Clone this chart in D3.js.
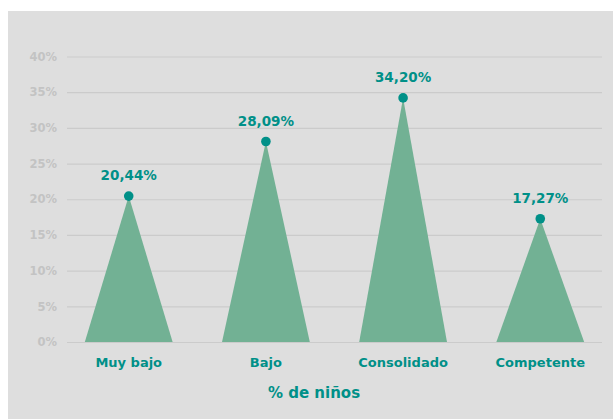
<!DOCTYPE html>
<html>
<head>
<meta charset="utf-8">
<script src="https://cdn.jsdelivr.net/npm/d3@7"></script>
<style>
  body { margin: 0; background: #fff; }
  svg { display: block; font-family: "DejaVu Sans", sans-serif; }
</style>
</head>
<body>
<div id="chart"></div>
<script>
const categories = ["Muy bajo", "Bajo", "Consolidado", "Competente"];
const values = [20.44, 28.09, 34.20, 17.27];
const valueLabels = ["20,44%", "28,09%", "34,20%", "17,27%"];
const yTicks = [0, 5, 10, 15, 20, 25, 30, 35, 40];
const axisTitle = "% de niños";

const width = 613, height = 419;
const teal = "#009088", green = "#72b194";

const svg = d3.select("#chart").append("svg")
  .attr("width", width)
  .attr("height", height);

// gray panel
svg.append("rect")
  .attr("x", 8).attr("y", 11)
  .attr("width", width - 8).attr("height", height - 11)
  .attr("fill", "#dedede");

const x = d3.scalePoint()
  .domain(categories)
  .range([67, 602])
  .padding(0.45);

const y = d3.scaleLinear()
  .domain([0, 40])
  .range([342, 56.5]);

// grid + tick labels
const yAxis = svg.append("g")
  .attr("transform", "translate(67,0)")
  .call(d3.axisLeft(y).tickValues(yTicks).tickSize(-535).tickFormat(d => d + "%"));
yAxis.select(".domain").remove();
yAxis.selectAll(".tick line")
  .attr("stroke", "#cbcbcb")
  .attr("stroke-width", 1.2);
yAxis.selectAll(".tick text")
  .attr("x", -10)
  .attr("fill", "#c3c3c3")
  .attr("font-size", 11.5)
  .attr("font-weight", 700)
  .attr("font-family", "DejaVu Sans, sans-serif");

const half = x.step() * 0.32;

// triangles
svg.append("g").selectAll("path")
  .data(categories)
  .join("path")
  .attr("fill", green)
  .attr("d", (c, i) => {
    const cx = x(c);
    return `M${cx - half},${y(0)}L${cx},${y(values[i])}L${cx + half},${y(0)}Z`;
  });

// dots
svg.append("g").selectAll("circle")
  .data(categories)
  .join("circle")
  .attr("cx", c => x(c))
  .attr("cy", (c, i) => y(values[i]))
  .attr("r", 4.8)
  .attr("fill", teal);

// value labels
svg.append("g").selectAll("text")
  .data(categories)
  .join("text")
  .attr("x", c => x(c))
  .attr("y", (c, i) => y(values[i]) - 16)
  .attr("text-anchor", "middle")
  .attr("fill", teal)
  .attr("font-size", 13.5)
  .attr("font-weight", 700)
  .text((c, i) => valueLabels[i]);

// category labels
svg.append("g").selectAll("text")
  .data(categories)
  .join("text")
  .attr("x", c => x(c))
  .attr("y", 367)
  .attr("text-anchor", "middle")
  .attr("fill", teal)
  .attr("font-size", 13)
  .attr("font-weight", 700)
  .text(c => c);

svg.append("text")
  .attr("x", 314)
  .attr("y", 398)
  .attr("text-anchor", "middle")
  .attr("fill", teal)
  .attr("font-size", 15)
  .attr("font-weight", 700)
  .text(axisTitle);
</script>
</body>
</html>
